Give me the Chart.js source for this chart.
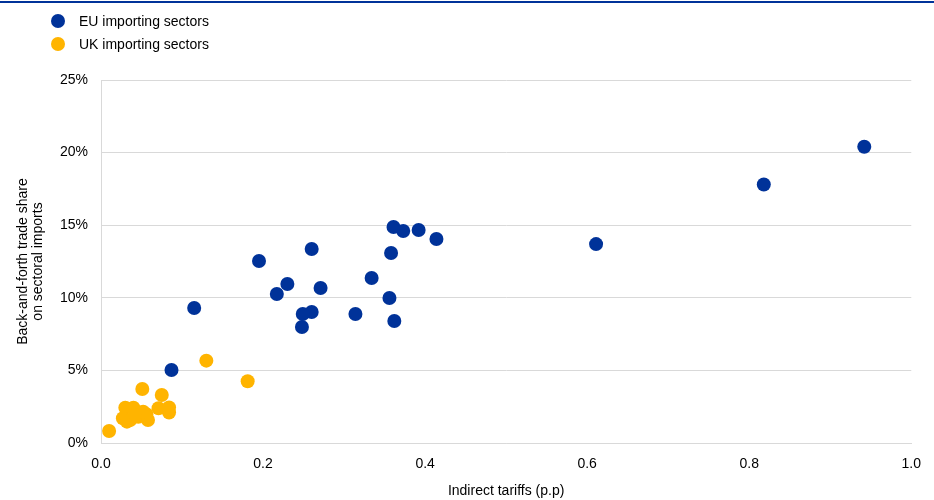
<!DOCTYPE html>
<html>
<head>
<meta charset="utf-8">
<script src="https://cdn.jsdelivr.net/npm/chart.js@4/dist/chart.umd.min.js"></script>
<style>
  html, body { margin: 0; padding: 0; background: #fff; }
  #wrap { position: relative; width: 934px; height: 500px; overflow: hidden; font-family: "Liberation Sans", Arial, sans-serif; }
  #topline { position: absolute; left: 0; top: 1px; width: 934px; height: 2px; background: #003299; }
  #chart { position: absolute; left: 0; top: 0; }
  .leg { position: absolute; left: 51px; height: 16px; font-size: 14px; color: #000; line-height: 16px; white-space: nowrap; }
  .leg span.dot { display: inline-block; width: 14px; height: 14px; border-radius: 50%; vertical-align: top; margin-top: 1px; margin-right: 14px; }
</style>
</head>
<body>
<div id="wrap">
  <canvas id="chart" width="934" height="500"></canvas>
  <div id="topline"></div>
  <div class="leg" style="top:13px;"><span class="dot" style="background:#003299"></span>EU importing sectors</div>
  <div class="leg" style="top:36px;"><span class="dot" style="background:#FFB400"></span>UK importing sectors</div>
</div>
<script>
const seriesNames = ["EU importing sectors", "UK importing sectors"];
const euX = [0.942, 0.818, 0.611, 0.414, 0.392, 0.373, 0.361, 0.358, 0.334, 0.356, 0.362, 0.314, 0.271, 0.260, 0.230, 0.217, 0.195, 0.260, 0.249, 0.248, 0.115, 0.087];
const euY = [20.4, 17.8, 13.7, 14.05, 14.67, 14.6, 14.88, 13.09, 11.36, 9.99, 8.40, 8.88, 10.67, 13.36, 10.95, 10.26, 12.53, 9.02, 8.88, 7.99, 9.30, 5.03];
const ukX = [0.130, 0.181, 0.051, 0.075, 0.071, 0.084, 0.084, 0.010, 0.030, 0.040, 0.027, 0.036, 0.046, 0.056, 0.058, 0.052, 0.032, 0.042];
const ukY = [5.67, 4.25, 3.72, 3.31, 2.39, 2.45, 2.10, 0.83, 2.43, 2.43, 1.70, 1.58, 1.81, 1.98, 1.58, 2.16, 1.47, 1.93];
const xTicks = [0.0, 0.2, 0.4, 0.6, 0.8, 1.0];
const yTicks = [0, 5, 10, 15, 20, 25];
const xTitle = "Indirect tariffs (p.p)";
const yTitle = ["Back-and-forth trade share", "on sectoral imports"];

const toPts = (xs, ys) => xs.map((x, i) => ({ x: x, y: ys[i] }));
const FONT = "'Liberation Sans', Arial, sans-serif";

new Chart(document.getElementById('chart'), {
  type: 'scatter',
  data: {
    datasets: [
      { label: seriesNames[0], data: toPts(euX, euY), backgroundColor: '#003299', borderColor: '#003299', borderWidth: 0, pointRadius: 7, pointHoverRadius: 7 },
      { label: seriesNames[1], data: toPts(ukX, ukY), backgroundColor: '#FFB400', borderColor: '#FFB400', borderWidth: 0, pointRadius: 7, pointHoverRadius: 7 }
    ]
  },
  options: {
    responsive: false,
    animation: false,
    events: [],
    layout: { padding: { top: 80, right: 19, left: 0, bottom: 0 } },
    plugins: { legend: { display: false }, tooltip: { enabled: false } },
    scales: {
      x: {
        type: 'linear', min: xTicks[0], max: xTicks[xTicks.length - 1],
        afterBuildTicks: s => { s.ticks = xTicks.map(v => ({ value: v })); },
        afterFit: s => { s.height = 57; },
        grid: { display: true, color: 'rgba(0,0,0,0)', drawTicks: false },
        border: { display: true, color: '#d9d9d9', width: 1 },
        ticks: { color: '#000', font: { family: FONT, size: 14 }, padding: 13, callback: v => Number(v).toFixed(1), maxRotation: 0 },
        title: { display: true, text: xTitle, color: '#000', font: { family: FONT, size: 14 }, padding: { top: 4, bottom: 0 } }
      },
      y: {
        type: 'linear', min: yTicks[0], max: yTicks[yTicks.length - 1],
        afterBuildTicks: s => { s.ticks = yTicks.map(v => ({ value: v })); },
        afterFit: s => { s.width = 101; },
        grid: { display: true, color: '#d9d9d9', drawTicks: false },
        border: { display: true, color: '#d9d9d9', width: 1 },
        ticks: { color: '#000', font: { family: FONT, size: 14 }, padding: 13, callback: v => v + '%' },
        title: { display: true, text: yTitle, color: '#000', font: { family: FONT, size: 14, lineHeight: 1.1 }, padding: { top: 15, bottom: 0 } }
      }
    }
  }
});
</script>
</body>
</html>
